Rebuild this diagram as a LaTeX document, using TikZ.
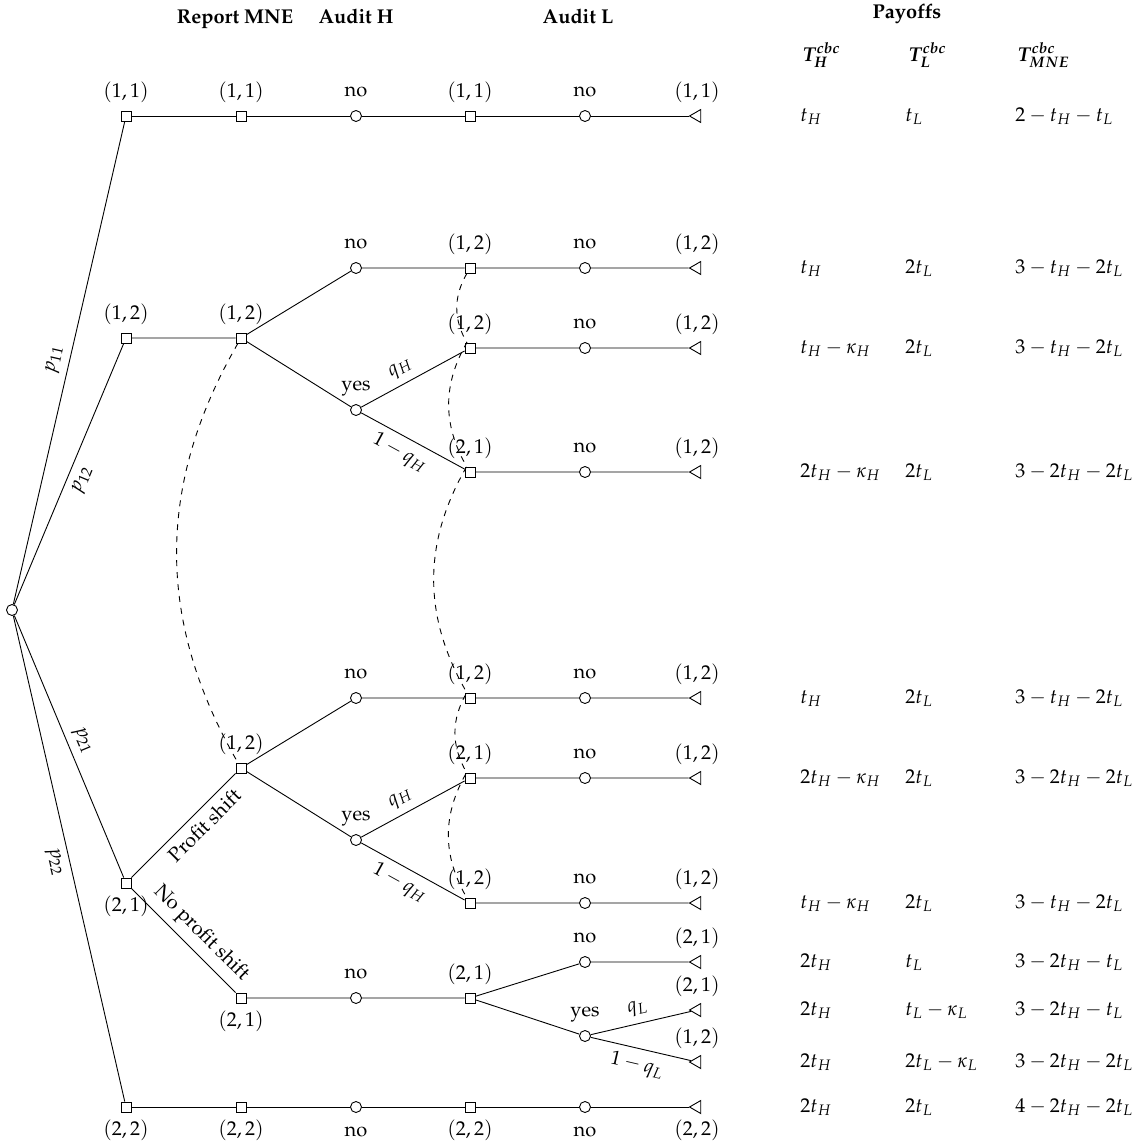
\documentclass[tikz,border=0pt]{standalone}
\usepackage[T1]{fontenc}
\usepackage{mathpazo}
\usepackage{amsmath,bm}
\usetikzlibrary{shapes.geometric}

\begin{document}
\begin{tikzpicture}[x=0.5pt, y=-0.5pt, line width=0.45pt,
  dec/.style={draw, rectangle, inner sep=0pt, minimum size=5pt, fill=white},
  chance/.style={draw, circle, inner sep=0pt, minimum size=5.5pt, fill=white},
  leaf/.style={draw, isosceles triangle, isosceles triangle apex angle=60,
    shape border rotate=180, inner sep=0pt, minimum height=5.6pt},
  label distance=3pt,
  every label/.style={text height=7.5pt, text depth=2.5pt, inner sep=1pt},
  head/.style={font=\bfseries, anchor=base},
  pay/.style={anchor=base west, inner sep=0pt}]
\useasboundingbox (0,0) rectangle (1144,1146);
%% ------------------------------------------------------------------ headings
\node[head] (hrep) at (235,23) {Report MNE};
\node[head] (hauh) at (356,23) {Audit H};
\node[head] (haul) at (578,23) {Audit L};
\node[head] (hpay) at (907,18) {Payoffs};
\node[pay] (tH) at (802,61) {$\bm{T_H^{cbc}}$};
\node[pay] (tL) at (908,61) {$\bm{T_L^{cbc}}$};
\node[pay] (tM) at (1017,61) {$\bm{T_{MNE}^{cbc}}$};
%% ------------------------------------------------------------------ the tree
% nature draws the true pair
\node[chance] (root) at (12,610) {};
\node[dec, label={above:$(1,1)$}] (a1) at (126,116) {};
\node[dec, label={above:$(1,2)$}] (b1) at (126,338) {};
\node[dec, label={below:$(2,1)$}] (c1) at (126,883) {};
\node[dec, label={below:$(2,2)$}] (d1) at (126,1107) {};
% pair (1,1)
\node[dec, label={above:$(1,1)$}] (a2) at (241,116) {};
\node[chance, label={above:no}] (a3) at (356,116) {};
\node[dec, label={above:$(1,1)$}] (a4) at (470,116) {};
\node[chance, label={above:no}] (a5) at (585,116) {};
\node[leaf, label={above:$(1,1)$}] (a6) at (697,116) {};
% pair (1,2)
\node[dec, label={above:$(1,2)$}] (b2) at (241,338) {};
\node[chance, label={above:no}] (b3) at (356,268) {};
\node[dec, label={above:$(1,2)$}] (b4) at (470,268) {};
\node[chance, label={above:no}] (b5) at (585,268) {};
\node[leaf, label={above:$(1,2)$}] (b6) at (697,268) {};
\node[chance, label={above:yes}] (by) at (356,410) {};
\node[dec, label={above:$(1,2)$}] (bq4) at (470,348) {};
\node[chance, label={above:no}] (bq5) at (585,348) {};
\node[leaf, label={above:$(1,2)$}] (bq6) at (697,348) {};
\node[dec, label={above:$(2,1)$}] (br4) at (470,472) {};
\node[chance, label={above:no}] (br5) at (585,472) {};
\node[leaf, label={above:$(1,2)$}] (br6) at (697,472) {};
% pair (2,1), profit shift
\node[dec, label={above:$(1,2)$}] (c2) at (241,768) {};
\node[chance, label={above:no}] (c3) at (356,698) {};
\node[dec, label={above:$(1,2)$}] (c4) at (470,698) {};
\node[chance, label={above:no}] (c5) at (585,698) {};
\node[leaf, label={above:$(1,2)$}] (c6) at (697,698) {};
\node[chance, label={above:yes}] (cy) at (356,840) {};
\node[dec, label={above:$(2,1)$}] (cq4) at (470,778) {};
\node[chance, label={above:no}] (cq5) at (585,778) {};
\node[leaf, label={above:$(1,2)$}] (cq6) at (697,778) {};
\node[dec, label={above:$(1,2)$}] (cr4) at (470,903) {};
\node[chance, label={above:no}] (cr5) at (585,903) {};
\node[leaf, label={above:$(1,2)$}] (cr6) at (697,903) {};
% pair (2,1), no profit shift
\node[dec, label={below:$(2,1)$}] (e2) at (241,998) {};
\node[chance, label={above:no}] (e3) at (356,998) {};
\node[dec, label={above:$(2,1)$}] (e4) at (470,998) {};
\node[chance, label={above:no}] (e5) at (585,962) {};
\node[leaf, label={above:$(2,1)$}] (e6) at (697,962) {};
\node[chance, label={above:yes}] (ey) at (585,1036) {};
\node[leaf, label={above:$(2,1)$}] (eq6) at (697,1010) {};
\node[leaf, label={above:$(1,2)$}] (er6) at (697,1062) {};
% pair (2,2)
\node[dec, label={below:$(2,2)$}] (d2) at (241,1107) {};
\node[chance, label={below:no}] (d3) at (356,1107) {};
\node[dec, label={below:$(2,2)$}] (d4) at (470,1107) {};
\node[chance, label={below:no}] (d5) at (585,1107) {};
\node[leaf, label={below:$(2,2)$}] (d6) at (697,1107) {};
% branches
\draw (root) -- node[above, sloped] {$p_{11}$} (a1);
\draw (root) -- node[below, sloped] {$p_{12}$} (b1);
\draw (root) -- node[above, sloped] {$p_{21}$} (c1);
\draw (root) -- node[below, sloped] {$p_{22}$} (d1);
\draw (a1) -- (a2) -- (a3) -- (a4) -- (a5) -- (a6);
\draw (b1) -- (b2) -- (b3) -- (b4) -- (b5) -- (b6);
\draw (b2) -- (by);
\draw (by) -- node[above, sloped, pos=0.45] {$q_H$} (bq4) -- (bq5) -- (bq6);
\draw (by) -- node[below, sloped, pos=0.45] {$1-q_H$} (br4) -- (br5) -- (br6);
\draw (c1) -- node[below, sloped, pos=0.6] {Profit shift} (c2) -- (c3) -- (c4) -- (c5) -- (c6);
\draw (c2) -- (cy);
\draw (cy) -- node[above, sloped, pos=0.45] {$q_H$} (cq4) -- (cq5) -- (cq6);
\draw (cy) -- node[below, sloped, pos=0.45] {$1-q_H$} (cr4) -- (cr5) -- (cr6);
\draw (c1) -- node[above, sloped, pos=0.55] {No profit shift} (e2) -- (e3) -- (e4) -- (e5) -- (e6);
\draw (e4) -- (ey) -- node[above, sloped] {$q_L$} (eq6);
\draw (ey) -- node[below, sloped] {$1-q_L$} (er6);
\draw (d1) -- (d2) -- (d3) -- (d4) -- (d5) -- (d6);
% information sets
\draw[dashed] (b2) to[bend right=30] (c2);
\draw[dashed] (b4) to[bend right=30] (bq4) to[bend right=30] (br4) to[bend right=30] (c4)
  to[bend right=30] (cq4) to[bend right=30] (cr4);
%% ------------------------------------------------------------------ payoffs
\foreach \y/\a/\b/\c in {116/t_H/t_L/2-t_H-t_L,
    268/t_H/2t_L/3-t_H-2t_L,
    348/t_H-\kappa_H/2t_L/3-t_H-2t_L,
    472/2t_H-\kappa_H/2t_L/3-2t_H-2t_L,
    698/t_H/2t_L/3-t_H-2t_L,
    778/2t_H-\kappa_H/2t_L/3-2t_H-2t_L,
    903/t_H-\kappa_H/2t_L/3-t_H-2t_L,
    962/2t_H/t_L/3-2t_H-t_L,
    1010/2t_H/t_L-\kappa_L/3-2t_H-t_L,
    1062/2t_H/2t_L-\kappa_L/3-2t_H-2t_L,
    1107/2t_H/2t_L/4-2t_H-2t_L} {
  \node[pay] (pH\y) at (800,\y+5) {$\a$};
  \node[pay] (pL\y) at (905,\y+5) {$\b$};
  \node[pay] (pM\y) at (1015,\y+5) {$\c$};
}
\end{tikzpicture}
\end{document}
